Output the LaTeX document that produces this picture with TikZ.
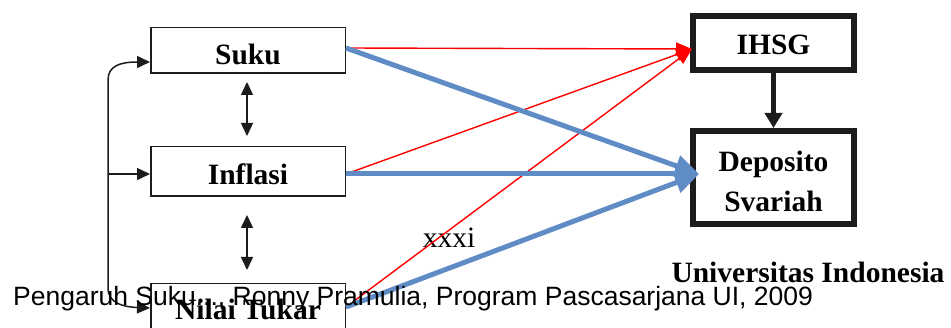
\documentclass[tikz,border=0pt]{standalone}
\usepackage{fontspec}
\setmainfont{Liberation Serif}
\newfontfamily\arialf{Liberation Sans}
\usetikzlibrary{arrows.meta}
\definecolor{bluearr}{RGB}{96,140,198}
\definecolor{boxline}{RGB}{28,28,28}
\begin{document}
\begin{tikzpicture}[x=1pt,y=-1pt,
  >={Triangle[length=13pt,width=12pt]},
  smallbox/.style={draw=boxline, line width=1.5pt, minimum width=194.5pt, inner sep=0pt},
  bigbox/.style={draw=boxline, line width=6pt, minimum width=161pt, inner sep=0pt},
  lbl/.style={font=\fontsize{29.5}{40}\selectfont\bfseries, anchor=base, inner sep=0pt},
  redarr/.style={red, line width=1.4pt, -{Triangle[length=16pt,width=13pt]}},
  bluearrow/.style={bluearr, line width=5pt, -{Triangle[length=24pt,width=21pt]}},
  blk/.style={boxline, line width=1.5pt}
]
\useasboundingbox (0,0) rectangle (951,328);
\clip (0,0) rectangle (951,328);

% boxes
\node[smallbox, minimum height=45.5pt] (suku) at (248,50.5) {};
\node[smallbox, minimum height=49.5pt] (inflasi) at (248,171.5) {};
\node[smallbox, minimum height=61.5pt] (nilai) at (248,314.5) {};
\node[bigbox, minimum height=54pt] (ihsg) at (773.5,43) {};
\node[bigbox, minimum height=93pt] (deposito) at (773.5,177.5) {};

% labels
\node[lbl] (tsuku) at (248,65) {Suku};
\node[lbl] (tinfl) at (248,185) {Inflasi};
\node[lbl] (tnilai) at (248,320) {Nilai Tukar};
\node[lbl] (tihsg) at (773.5,55) {IHSG};
\node[lbl] (tdep1) at (773.5,172) {Deposito};
\node[lbl] (tdep2) at (773.5,211.5) {Svariah};
\node[lbl] (tui) at (808,283) {Universitas Indonesia};
\node[font=\fontsize{29.5}{35}\selectfont, anchor=base, inner sep=0pt] (pg) at (449,248) {xxxi};

% connector end points
\coordinate (sukuo) at ([yshift=2.5pt]suku.east);
\coordinate (inflo) at ([yshift=-2.5pt]inflasi.east);
\coordinate (nilo) at ([yshift=7.5pt]nilai.east);
\coordinate (ihsgin) at ([xshift=2pt,yshift=-6pt]ihsg.west);
\coordinate (depin) at ([xshift=9pt,yshift=3.5pt]deposito.west);

% red arrows to IHSG
\draw[redarr] (sukuo) -- (ihsgin);
\draw[redarr] (inflo) -- (ihsgin);
\draw[redarr] (nilo) -- (ihsgin);

% blue arrows to Deposito
\draw[bluearrow] (sukuo) -- (depin);
\draw[bluearrow] (inflo) -- (depin);
\draw[bluearrow] (nilo) -- (depin);

% IHSG -> Deposito
\draw[boxline, line width=5pt, -{Triangle[length=15pt,width=17pt]}] (ihsg.south) -- (deposito.north);

% double arrows
\draw[blk, <->] ([xshift=-1pt,yshift=-8pt]suku.south) -- ([xshift=-1pt,yshift=10pt]inflasi.north);
\draw[blk, <->] ([xshift=-1pt,yshift=-18pt]inflasi.south) -- ([xshift=-1pt,yshift=13pt]nilai.north);

% left bracket
\coordinate (sukuin) at ([yshift=-11.5pt]suku.west);
\coordinate (inflin) at ([yshift=-2.5pt]inflasi.west);
\coordinate (nilin) at ([yshift=6.5pt]nilai.west);
\coordinate (bmid) at (108,174);
\coordinate (btop) at (108,80);
\coordinate (bbot) at (108,288);
\draw[blk, ->] (bmid) -- (btop) .. controls (108,66) and (120,62) .. (sukuin);
\draw[blk, ->] (bmid) -- (bbot) .. controls (108,304) and (125,307) .. (nilin);
\draw[blk, ->] (bmid) -- (inflin);

% footer
\node[font=\arialf\fontsize{26.5}{30}\selectfont, anchor=base west, inner sep=0pt] (foot) at (13,306) {Pengaruh Suku..., Ronny Pramulia, Program Pascasarjana UI, 2009};
\end{tikzpicture}
\end{document}
